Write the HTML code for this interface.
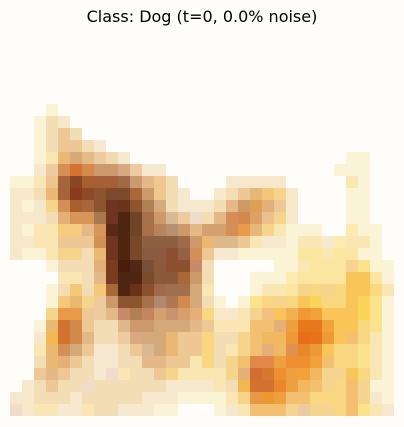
<!DOCTYPE html>
<html><head><meta charset="utf-8"><style>
html,body{margin:0;padding:0;background:#fffdf9;}
#wrap{position:relative;width:404px;height:427px;background:#fffdf9;overflow:hidden;}
#title{position:absolute;left:0;top:7px;width:404px;text-align:center;font-family:"DejaVu Sans","Liberation Sans",sans-serif;font-size:16px;color:#000;}
svg{position:absolute;left:0;top:0;}
</style></head><body>
<div id="wrap">
<div id="title">Class: Dog (t=0, 0.0% noise)</div>
<svg id="img" width="404" height="427"></svg>
</div>
<script>
const gridSize = 32;
const pixelRows = [
"- - - - - - - - - - - - - - - - - - - - - - - - - - - - - - - -",
"- - - - - - - - - - - - - - - - - - - - - - - - - - - - - - - -",
"- - - - - - - - - - - - - - - - - - - - - - - - - - - - - - - -",
"- - - - - - - - - - - - - - - - - - - - - - - - - - - - - - - -",
"- - - - - - - - - - - - - - - - - - - - - - - - - - - - - - - -",
"- - - - - - - - - - - - - - - - - - - - - - - - - - - - - - - -",
"- - - FBF3D6 - - - - - - - - - - - - - - - - - - - - - - - - - - - -",
"- - FBF3D6 F2DDB4 F7E7CB - - - - - - - - - - - - - - - - - - - - - - - - - - -",
"- - FBF3D6 F2DDB4 EEC894 F2DDB4 - - - - - - - - - - - - - - - - - - - - - - - - - -",
"- - FBF3D6 F2DDB4 EEC894 EEC894 F2DDB4 F7E9D0 - - - - - - - - - - - - - - - - - - - - - - - -",
"- - FBF3D6 F9E6B3 EBB873 D8A878 E5BA88 EDCBA0 F2DAB0 F7E9D0 - - - - - - - - - - - - - - - - - - FBF3D6 FBF3D6 - -",
"- - F7E7CB EFC9A0 D38F55 D4722F D38A4B CC9A6A CC9A6A D8A880 EECB9E F7E9D0 F7E9D0 - - - - - - - - - - - - - - FBF3D6 FBF3D6 FBF3D6 - -",
"FBF3D6 FBF3D6 F9E6B3 EDC48C A5643A 884626 A85F2E A5603A A5603A A06A48 CB9A6E E6B888 EFC890 F2DDB4 - - - - F7E7CB F7E7CB F7E7CB F7E7CB F7E7CB - - - - - F9E6B3 FBF3D6 - -",
"F7E7CB F7E7CB F2DDB4 EBB873 A5643A 8C3B1C 8C4A28 8C5530 7A4A2A 7A4A2A A86838 CC9A6A EFC890 F2DDB4 F7E9D0 - - F7E7CB F2DDB4 EEC894 E5B878 F2C878 F7D48C F7E7CB - - - - FBF3D6 FBF3D6 - -",
"F7E7CB FBF3D6 F7E7CB F7D48C D38F55 A85F2E A8663A 8C5530 703520 6A3418 8C5530 B08055 D8A880 F2DDB4 F7E9D0 F7E9D0 F7E7CB F2DDB4 E5B888 CC9A6A DDA050 E5B078 EEC894 F7E7CB - - - - FBF3D6 FBF3D6 - -",
"F7E7CB F7E7CB F7E7CB F2DDB4 E5B078 D8955A D8955A A8784E 703520 4E2610 704428 A87048 CC9A6A D9B896 EECB9E EFDCCA F2DDB4 E5B888 D38F55 D4884A DDA068 EBC090 F7D48C F7E7CB - - - - FBF3D6 FBF3D6 - -",
"F7E7CB FBF3D6 F9E6B3 F9E6B3 F5CB7C F5CB7C E5B888 D8955A 5A2A14 4E2610 704428 A87048 B8845C B89070 CC9A6A E5B888 D4A070 D4A070 D38F55 E89A48 E5B878 F7D48C F9E6B3 FBF3D6 FBF3D6 FBF3D6 - - FBEBB0 FBF3D6 FBF3D6 -",
"F7E7CB F7E7CB F9E6B3 F9E6B3 EEC894 EEC894 EEC894 D38F55 703520 4E2610 784828 8C6040 8C6040 8C6040 A06A48 CC9A6A EBB873 DDB888 DDB888 EEC894 F9E6B3 F7E9D0 F7E9D0 FBF3D6 F9E6B3 F9E6B3 F7E9D0 FBEBB0 F9E6B3 F9E6B3 FBF3D6 -",
"F7E7CB FBF3D6 FBF3D6 F9E6B3 F7D48C F7D48C F2DDB4 EBB873 703520 4E2610 784828 8C5A40 8C5A40 8C5030 946048 D38F55 EEC894 F7E9D0 F7E9D0 FBF3D6 FBF3D6 FBF3D6 FBF3D6 FBF3D6 FBE6A0 FBE6A0 F9E6B3 FBE6A0 FBE6A0 FBF3D6 FBF3D6 -",
"- - - FBF3D6 F2DDB4 F2DDB4 F2DDB4 E5B078 7A3C1E 4A1C0E 502814 785038 8C5A38 8C5030 8C5030 C88A68 F2DDB4 - - - - - FBF3D6 FBF3D6 F9E6B3 FBE6A0 FBE6A0 FBE6A0 F5D490 FBE38C FBF3D6 FBF3D6",
"- - - - F9E6B3 F9E6B3 F2DDB4 E5B888 7A3C1E 4E2610 4E2610 7A4A2A 8C5A38 8C5A38 A86838 CC9A6A F2DDB4 - - - FBF3D6 FBF3D6 FBF3D6 FBEBB0 FBE6A0 FBE6A0 FBE6A0 FBE6A0 F9C558 F9C558 FBE6A0 FBF3D6",
"- - - FBF3D6 F2DDB4 F5C878 F2DDB4 F5C878 A86838 4E2610 6A3018 8C5030 A06A48 A06F50 A06F50 D4A878 F9E6B3 - - - FBF3D6 F9E6B3 F9E6B3 FBE6A0 F7D48C F9D680 F7D48C F9D680 F9C558 F9C558 FADB7C F9E6B3",
"- - - FBF3D6 F5C878 EBB873 F7D48C EECB9E CC9A6A 8C5530 8C5530 A87048 B08870 B07850 D38A4B D4A878 F2DDB4 FBF3D6 - FBF3D6 FBE38C F9D680 F7D48C F9D680 F9C558 FBD45A F9D680 F9D680 F9C558 FBD45A FBE38C FBF3D6",
"- - - F7D48C E89A48 E89A48 EEC894 EECB9E E5B888 C88A68 B08055 C48460 D4A070 C89470 D4A070 E5B078 F9D680 F7E7CB F7E7CB F9E6B3 F5D490 F2C080 F9C558 F2B050 EE9838 F2A038 F9C558 F9C558 F9C558 FBD45A FBE38C FBF3D6",
"- - FBF3D6 EBB873 D4722F D38A4B EEC894 F2DDB4 F2DDB4 DDB888 CC9A6A CC9A6A D4A878 D4A878 D4A878 E5B888 EEC894 F9E6B3 F9E6B3 F9E6B3 F2C070 F2C070 E5B078 EEA040 E8781A E87820 F2A038 F9C558 F9C558 F9D680 FBE38C FBF3D6",
"- - F7E7CB F5B850 D4722F D38A4B E5B888 F2DDB4 F2DDB4 EECB9E D8A880 D4A878 D4A878 EBB873 EEC894 EEC894 F9D680 F2DDB4 F2DDB4 F7D48C F2C070 F2B860 F2B860 EE9838 E86E1E E8721A EE9838 F9C558 F2C070 F9D680 F9E6B3 FBF3D6",
"- - F9E6B3 EBB873 D38F55 D4A878 EEC894 F7E9D0 F7E9D0 F2DDB4 EEC894 D9B896 D4A878 EBB873 EEC894 EEC894 F9D680 F2DDB4 F9E6B3 F7D48C F2C070 E5B078 F2B860 E09050 E8882A EE9838 F9C558 F9D680 F9D680 FBE38C F9E6B3 FBF3D6",
"- - F2DDB4 EBB873 E5B078 EEC894 F2DDB4 F7E9D0 F7E9D0 F2DDB4 F2DDB4 E5B888 E5B888 EEC894 EEC894 F9E6B3 F9D680 F2DDB4 F7D48C F2C070 E08848 E08848 EEA040 EE9030 EE9030 F2A038 F2C070 F9D680 F9D680 FBE38C F9E6B3 FBF3D6",
"- - EEC894 E5B888 EEC894 F2DDB4 F2DDB4 F7E9D0 EFDCCA F9E6B3 F2DDB4 F2DDB4 EEC894 F7D48C F9E6B3 F9E6B3 F9E6B3 F9E6B3 F7D48C E5B078 D46E30 D8782C EE9030 EEA040 F2A038 F2B860 F5D490 F5D490 F9C558 F9D680 F9E6B3 FBF3D6",
"- F7E7CB F2DDB4 EEC894 F2DDB4 F2DDB4 EFDCCA F2DDB4 F2DDB4 F2DDB4 F2DDB4 F2DDB4 F2DDB4 F7E9D0 F7E9D0 F7E9D0 F7E7CB F9E6B3 F2DDB4 F2B850 D47030 D47030 E8882A EEA040 F2B860 F2C070 F5D490 F9D680 F2C070 F5D490 FBF3D6 FBF3D6",
"F7E7CB F7E7CB F2DDB4 F2DDB4 F2DDB4 F7E9D0 F2DDB4 F2DDB4 F2DDB4 F2DDB4 F2DDB4 F7E9D0 F7E9D0 F7E9D0 FBF3D6 FBF3D6 FBF3D6 FBF3D6 F9E6B3 F7D48C E89848 EE9830 EEA040 F2C070 F2C070 F9D680 F9D680 F9D680 F2C070 F5D490 F7E7CB FBF3D6",
"EFDCCA F7E7CB F9E6B3 F9E6B3 F7E9D0 F7E9D0 F9E6B3 F2DDB4 F2DDB4 F7E9D0 F7E9D0 F7E9D0 FBF3D6 FBF3D6 - - - FBF3D6 F7E7CB F9E6B3 F2C070 F2C070 F2C070 F5D490 EECB9E F5D490 F5D490 F9D680 F2C070 FBE38C F9E6B3 F7E9D0"
];
const originX = 10, originY = 32, cellSize = 12;
function xPos(c){ return originX + c*cellSize; }
function yPos(r){ return originY + r*cellSize; }
const svg = document.getElementById('img');
const NS = 'http://www.w3.org/2000/svg';
pixelRows.forEach(function(rowStr, r){
  const cells = rowStr.trim().split(/\s+/);
  for (let c = 0; c < gridSize; c++){
    const v = cells[c];
    if (!v || v === '-') continue;
    const rect = document.createElementNS(NS, 'rect');
    rect.setAttribute('x', xPos(c));
    rect.setAttribute('y', yPos(r));
    rect.setAttribute('width', cellSize);
    rect.setAttribute('height', cellSize);
    rect.setAttribute('fill', '#' + v);
    
    
    svg.appendChild(rect);
  }
});
</script>
</body></html>
